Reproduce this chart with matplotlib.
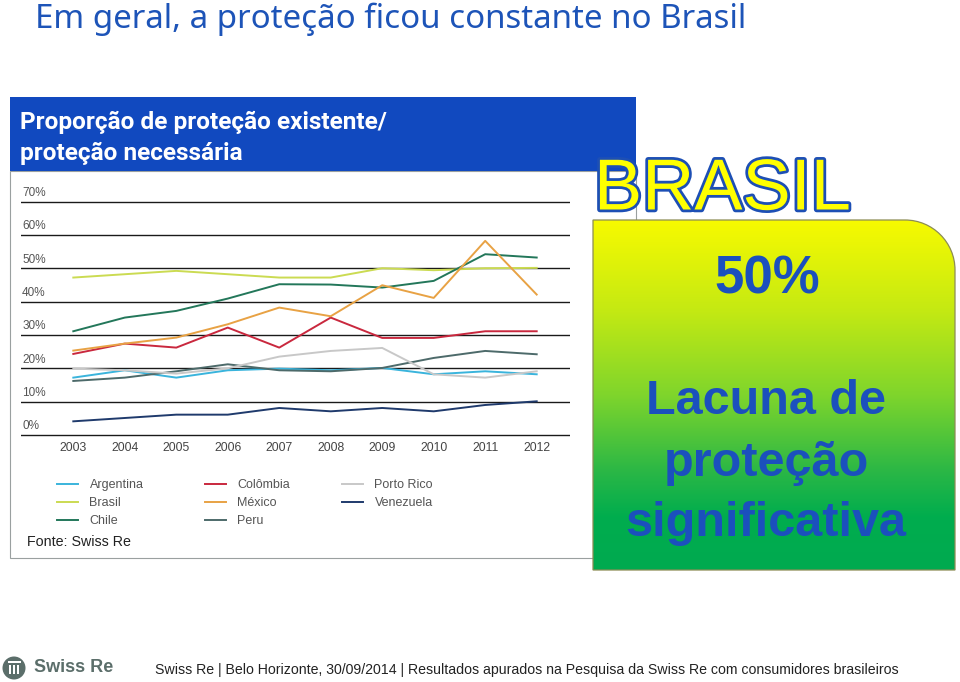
import matplotlib
matplotlib.use("Agg")
import matplotlib.pyplot as plt
import numpy as np
from matplotlib.patches import Rectangle, PathPatch, Circle
from matplotlib.path import Path
from matplotlib.colors import LinearSegmentedColormap
import matplotlib.patheffects as pe

# Proportion of existing protection / needed protection, %
years = [2003, 2004, 2005, 2006, 2007, 2008, 2009, 2010, 2011, 2012]
argentina = [17.2, 19.4, 17.2, 19.4, 19.9, 19.4, 20.1, 18.2, 19.1, 18.2]
brasil = [47.2, 48.2, 49.2, 48.2, 47.2, 47.2, 50.0, 49.4, 50.0, 50.1]
chile = [31.1, 35.2, 37.2, 40.9, 45.2, 45.1, 44.2, 46.2, 54.2, 53.2]
colombia = [24.3, 27.4, 26.2, 32.2, 26.2, 35.2, 29.1, 29.1, 31.1, 31.1]
mexico = [25.3, 27.4, 29.2, 33.2, 38.2, 35.6, 44.9, 41.1, 58.2, 42.1]
peru = [16.2, 17.2, 19.1, 21.2, 19.4, 19.1, 20.1, 23.1, 25.2, 24.2]
porto_rico = [19.9, 19.4, 18.4, 20.0, 23.5, 25.2, 26.1, 18.2, 17.2, 19.1]
venezuela = [4.1, 5.1, 6.1, 6.1, 8.1, 7.1, 8.1, 7.1, 9.0, 10.1]
y_ticks = [0, 10, 20, 30, 40, 50, 60, 70]

W, H = 960, 682
fig = plt.figure(figsize=(W / 100, H / 100), dpi=100)
fig.patch.set_facecolor("white")

# ----------------------------------------------------------------------------------------
# Background layer in pixel coordinates.
# ----------------------------------------------------------------------------------------
bg = fig.add_axes([0, 0, 1, 1])
bg.set_xlim(0, W)
bg.set_ylim(H, 0)
bg.set_axis_off()

blue = "#1149bf"
text_blue = "#1b50bd"

bg.text(35, 19, "Em geral, a proteção ficou constante no Brasil", fontsize=23.8,
        family="Noto Sans", color="#1d54b8", va="center", ha="left")

bg.add_patch(Rectangle((10, 171), 626, 387, facecolor="white", edgecolor="#9aa0a0", lw=0.8))
bg.add_patch(Rectangle((10, 97), 626, 74, facecolor=blue, edgecolor="none"))
bg.text(20, 122, "Proporção de proteção existente/", fontsize=17.6, family="Roboto",
        fontweight="bold", color="white", va="center")
bg.text(20, 153, "proteção necessária", fontsize=17.6, family="Roboto",
        fontweight="bold", color="white", va="center")

bg.text(27, 542, "Fonte: Swiss Re", fontsize=10.3, family="Liberation Sans",
        color="#222222", va="center")

# green gradient box with rounded top-right corner
x0, x1, y0, y1, r = 593, 955, 220, 570, 50
k = 0.552 * r
verts = [(x0, y1), (x0, y0), (x1 - r, y0), (x1 - r + k, y0), (x1, y0 + r - k), (x1, y0 + r),
         (x1, y1), (x0, y1)]
codes = [Path.MOVETO, Path.LINETO, Path.LINETO, Path.CURVE4, Path.CURVE4, Path.CURVE4,
         Path.LINETO, Path.CLOSEPOLY]
box = PathPatch(Path(verts, codes), facecolor="none", edgecolor="#8c8c55", lw=0.9, zorder=3)
cmap = LinearSegmentedColormap.from_list(
    "brgrad", [(0, "#f7fa00"), (0.25, "#c6ea12"), (0.5, "#7fd52c"),
               (0.72, "#2ab746"), (0.85, "#00ad4e"), (1, "#00aa50")])
grad = np.linspace(0, 1, 256).reshape(-1, 1)
im = bg.imshow(grad, cmap=cmap, extent=(x0, x1, y1, y0), aspect="auto", zorder=2)
bg.add_patch(box)
im.set_clip_path(box)
bg.set_xlim(0, W)
bg.set_ylim(H, 0)

bg.text(594, 191, "BRASIL", fontsize=52, family="Liberation Sans", color="#ffff00",
        va="center", ha="left", zorder=5,
        path_effects=[pe.withStroke(linewidth=4, foreground="#1d4fb5")])

bg.text(767, 280, "50%", fontsize=38, family="Liberation Sans", fontweight="bold",
        color=text_blue, ha="center", va="center", zorder=5)
for yy, s in [(402, "Lacuna de"), (464, "proteção"), (524, "significativa")]:
    bg.text(766, yy, s, fontsize=35, family="Liberation Sans", fontweight="bold",
            color=text_blue, ha="center", va="center", zorder=5)

# footer
bg.add_patch(Circle((14, 668), 11.5, facecolor="#5b6e6a", edgecolor="none"))
bg.add_patch(Rectangle((7.5, 661), 13, 2.2, facecolor="white", edgecolor="none"))
for xx in (8.5, 12.8, 17.1):
    bg.add_patch(Rectangle((xx, 664.5), 2.3, 9, facecolor="white", edgecolor="none"))
bg.text(34, 668, "Swiss Re", fontsize=13, family="Liberation Sans", fontweight="bold",
        color="#5b6e6a", va="center")
bg.text(155, 670, "Swiss Re | Belo Horizonte, 30/09/2014 | Resultados apurados na "
        "Pesquisa da Swiss Re com consumidores brasileiros",
        fontsize=10.2, family="Liberation Sans", color="#222222", va="center")

# ----------------------------------------------------------------------------------------
# Line chart.
# ----------------------------------------------------------------------------------------
px0, px1, py_top, py_bot = 21, 570, 185, 440
ax = fig.add_axes([px0 / W, 1 - py_bot / H, (px1 - px0) / W, (py_bot - py_top) / H])
step = (536.7 - 73.3) / 9
ax.set_xlim(2003 - (73.3 - px0) / step, 2012 + (px1 - 536.7) / step)
ppu = (435 - 201.5) / 70
ax.set_ylim(-(py_bot - 435) / ppu, 70 + (201.5 - py_top) / ppu)
ax.set_axis_off()
ax.patch.set_alpha(0)

for v in y_ticks:
    ax.axhline(v, color="#1a1a1a", lw=1.0, zorder=1)
    ax.text(0.002, v + 2.6, f"{v}%", transform=ax.get_yaxis_transform(),
            fontsize=8.5, family="Liberation Sans", color="#555555", va="center")
for yr in years:
    ax.text(yr, -3.9, str(yr), fontsize=8.8, family="Liberation Sans", color="#444444",
            ha="center", va="center", clip_on=False)

series = [
    ("Argentina", argentina, "#3ab4dc"),
    ("Brasil", brasil, "#cbdb52"),
    ("Chile", chile, "#23775a"),
    ("Colômbia", colombia, "#c9283e"),
    ("México", mexico, "#e8a244"),
    ("Peru", peru, "#4d6a6a"),
    ("Porto Rico", porto_rico, "#c8c8c8"),
    ("Venezuela", venezuela, "#1f3a6c"),
]
handles = []
for name, vals, col in series:
    ln, = ax.plot(years, vals, color=col, lw=1.4, label=name, zorder=3)
    handles.append(ln)

# legend, three columns
for i, (start, xl) in enumerate([(0, 57), (3, 205), (6, 342)]):
    hs = handles[start:start + 3]
    fig.legend(hs, [h.get_label() for h in hs], loc="upper left",
               bbox_to_anchor=(xl / W, 1 - 479 / H), frameon=False, borderpad=0,
               borderaxespad=0, handlelength=1.7, handletextpad=0.9, labelspacing=0.5,
               prop={"family": "Liberation Sans", "size": 9}, labelcolor="#555555")

fig.savefig("out.png", dpi=100)
